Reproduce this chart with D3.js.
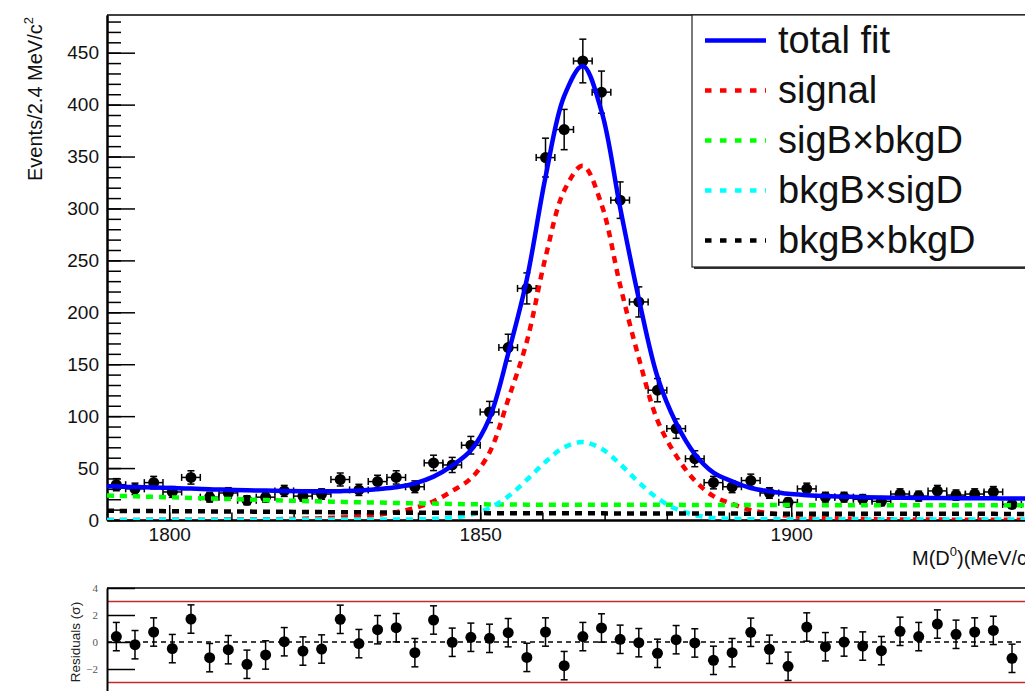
<!DOCTYPE html>
<html>
<head>
<meta charset="utf-8">
<script src="https://cdn.jsdelivr.net/npm/d3@7"></script>
<style>
    body { margin: 0; background: #fff; }
    svg { display: block; font-family: "Liberation Sans", Arial, Helvetica, sans-serif; }
</style>
</head>
<body>
<script>
// Bin centres of the D0 mass histogram (3 MeV bins from 1790)
var massCenters = [1791.5, 1794.5, 1797.5, 1800.5, 1803.5, 1806.5, 1809.5, 1812.5, 1815.5, 1818.5,
    1821.5, 1824.5, 1827.5, 1830.5, 1833.5, 1836.5, 1839.5, 1842.5, 1845.5, 1848.5,
    1851.5, 1854.5, 1857.5, 1860.5, 1863.5, 1866.5, 1869.5, 1872.5, 1875.5, 1878.5,
    1881.5, 1884.5, 1887.5, 1890.5, 1893.5, 1896.5, 1899.5, 1902.5, 1905.5, 1908.5,
    1911.5, 1914.5, 1917.5, 1920.5, 1923.5, 1926.5, 1929.5, 1932.5, 1935.5];

// Events per bin
var counts = [34, 30, 36, 27, 41, 22, 26, 19, 22, 28,
    23, 25, 39, 29, 37, 41, 32, 55, 53, 72,
    104, 166, 223, 349, 376, 442, 412, 308, 210, 125,
    88, 59, 36, 32, 38, 26, 17, 30, 22, 22,
    20, 18, 25, 23, 28, 24, 25, 27, 15];

// Pulls shown in the lower panel
var pulls = [0.40, -0.20, 0.74, -0.49, 1.70, -1.16, -0.57, -1.65, -0.96, 0.02,
    -0.67, -0.52, 1.68, -0.12, 0.91, 1.06, -0.79, 1.63, -0.02, 0.35,
    0.27, 0.69, -1.14, 0.74, -1.75, 0.40, 1.04, 0.20, -0.05, -0.84,
    0.17, -0.07, -1.36, -0.79, 0.72, -0.54, -1.80, 1.11, -0.35, 0.00,
    -0.30, -0.64, 0.79, 0.40, 1.33, 0.57, 0.74, 0.86, -1.21];
var pullError = 1.05;

// Fit curves sampled at the range edges and at every bin centre
var curveMass = [1790].concat(massCenters, [1938.5, 1940]);

var totalFit = [32.6,
    32.3, 31.7, 31.3, 30.7, 30.3, 29.6, 29.1, 28.6, 28.3, 27.9,
    27.6, 27.6, 27.8, 28.3, 29.7, 31.5, 35.3, 41.8, 52.4, 67.1,
    98.2, 160.2, 231.9, 330.3, 408.1, 437.1, 393.7, 300.7, 213.1, 137.9,
    93.4, 63.5, 45.7, 37.3, 30.8, 27.7, 25.2, 23.9, 23.0, 22.5,
    22.0, 21.6, 21.4, 21.2, 21.1, 21.0, 21.0, 20.9, 20.7, 20.7,
    20.7];

var signal = [0.1,
    0.1, 0.1, 0.15, 0.2, 0.25, 0.3, 0.4, 0.5, 0.7, 0.9,
    1.2, 1.7, 2.4, 3.4, 5.1, 7.5, 11.6, 18, 28, 40,
    65, 116, 172, 253, 317, 341, 304, 226, 156, 96,
    62, 38, 23, 15.5, 9.5, 6.5, 4.0, 2.8, 2.0, 1.5,
    1.1, 0.8, 0.6, 0.5, 0.4, 0.3, 0.3, 0.3, 0.2, 0.2,
    0.2];

var sigBbkgD = [23.5,
    23.3, 22.8, 22.3, 21.8, 21.3, 20.7, 20.2, 19.7, 19.2, 18.7,
    18.3, 17.9, 17.5, 17.1, 16.8, 16.4, 16.1, 15.8, 15.4, 15.2,
    15.0, 14.9, 14.8, 14.8, 14.7, 14.7, 14.7, 14.6, 14.6, 14.6,
    14.6, 14.5, 14.5, 14.5, 14.4, 14.4, 14.4, 14.3, 14.3, 14.3,
    14.3, 14.2, 14.2, 14.2, 14.2, 14.2, 14.2, 14.1, 14.1, 14.1,
    14.1];

var bkgBsigD = [0.1,
    0.1, 0.1, 0.2, 0.2, 0.3, 0.3, 0.3, 0.3, 0.4, 0.4,
    0.4, 0.4, 0.4, 0.4, 0.5, 0.5, 0.6, 1.1, 2.2, 5.2,
    11.6, 22.7, 38.6, 56, 70, 75, 68.6, 53.8, 36.2, 21,
    10.6, 4.8, 2.0, 1.1, 0.8, 0.7, 0.7, 0.7, 0.7, 0.7,
    0.6, 0.6, 0.6, 0.6, 0.6, 0.6, 0.6, 0.6, 0.6, 0.6,
    0.6];

var bkgBbkgD = [8.9,
    8.8, 8.7, 8.6, 8.5, 8.4, 8.3, 8.2, 8.1, 8.0, 7.9,
    7.7, 7.6, 7.5, 7.4, 7.3, 7.1, 7.0, 6.9, 6.8, 6.7,
    6.6, 6.6, 6.5, 6.5, 6.4, 6.4, 6.4, 6.3, 6.3, 6.3,
    6.2, 6.2, 6.2, 6.2, 6.1, 6.1, 6.1, 6.1, 6.0, 6.0,
    6.0, 6.0, 6.0, 5.9, 5.9, 5.9, 5.9, 5.9, 5.8, 5.8,
    5.8];

var legendLabels = ["total fit", "signal", "sigB\u00d7bkgD", "bkgB\u00d7sigD", "bkgB\u00d7bkgD"];

// Tick labels
var countTicks = [0, 50, 100, 150, 200, 250, 300, 350, 400, 450];
var massTicks = [1800, 1850, 1900];
var pullTicks = [-2, 0, 2, 4];

window.onload = drawChart;

function drawChart(){

    var width = 1025,
        height = 691;

    var svg = d3.select("body")
        .append("svg")
        .attr("width", width)
        .attr("height", height);

    // Shared mass scale, the frame runs past the right edge of the picture
    var x = d3.scaleLinear()
        .domain([1790, 1940])
        .range([107, 1040]);

    var y = d3.scaleLinear()
        .domain([0, 486.3])
        .range([520, 15]);

    var yPull = d3.scaleLinear()
        .domain([-4, 4])
        .range([696, 588]);

    svg.append("clipPath")
        .attr("id", "plotClip")
        .append("rect")
        .attr("x", x.range()[0])
        .attr("y", y.range()[1])
        .attr("width", x.range()[1] - x.range()[0])
        .attr("height", y.range()[0] - y.range()[1]);

    // ---- main panel ----

    // top frame line
    svg.append("line")
        .attr("x1", x.range()[0]).attr("x2", x.range()[1])
        .attr("y1", y.range()[1]).attr("y2", y.range()[1])
        .attr("stroke", "#000").attr("stroke-width", 1.5);

    // minor ticks first so the labelled axis sits on top
    svg.append("g")
        .attr("transform", "translate(" + x.range()[0] + ",0)")
        .call(d3.axisLeft(y).tickValues(d3.range(0, 481, 10)).tickSize(-14).tickSizeOuter(0).tickFormat(""))
        .call(styleAxis);

    svg.append("g")
        .attr("transform", "translate(0," + y.range()[0] + ")")
        .call(d3.axisBottom(x).tickValues(d3.range(1790, 1941, 10)).tickSize(-7.5).tickSizeOuter(0).tickFormat(""))
        .call(styleAxis);

    var yAxis = svg.append("g")
        .attr("transform", "translate(" + x.range()[0] + ",0)")
        .call(d3.axisLeft(y).tickValues(countTicks).tickSize(-28).tickSizeOuter(0).tickPadding(8).tickFormat(d3.format("d")))
        .call(styleAxis);
    yAxis.selectAll("text").attr("font-size", 19);

    var xAxis = svg.append("g")
        .attr("transform", "translate(0," + y.range()[0] + ")")
        .call(d3.axisBottom(x).tickValues(massTicks).tickSize(-15).tickSizeOuter(0).tickPadding(8).tickFormat(d3.format("d")))
        .call(styleAxis);
    xAxis.selectAll("text").attr("font-size", 19);

    // axis titles
    var yTitle = svg.append("text")
        .attr("transform", "translate(42,17) rotate(-90)")
        .attr("text-anchor", "end")
        .attr("font-size", 20)
        .attr("fill", "#111");
    yTitle.append("tspan").text("Events/2.4 MeV/c");
    yTitle.append("tspan").attr("font-size", 13).attr("dy", -9).text("2");

    var xTitle = svg.append("text")
        .attr("x", 912)
        .attr("y", 565)
        .attr("font-size", 20)
        .attr("fill", "#111");
    xTitle.append("tspan").text("M(D");
    xTitle.append("tspan").attr("font-size", 13).attr("dy", -9).text("0");
    xTitle.append("tspan").attr("dy", 9).text(")(MeV/c");
    xTitle.append("tspan").attr("font-size", 13).attr("dy", -9).text("2");
    xTitle.append("tspan").attr("dy", 9).text(")");

    // data points with error bars
    var points = massCenters.map(function(m, i){
        return {mass: m, count: counts[i], err: Math.sqrt(counts[i]), pull: pulls[i]};
    });

    var dataG = svg.append("g").attr("clip-path", "url(#plotClip)");
    drawPoints(dataG, points, x, y, true);

    // fit curves
    var line = d3.line()
        .curve(d3.curveCatmullRom.alpha(0.5))
        .x(function(d){ return x(d[0]); })
        .y(function(d){ return y(d[1]); });

    var curves = [
        {values: totalFit, color: "#0000ff", dash: null},
        {values: signal, color: "#ff0000", dash: "7,6"},
        {values: sigBbkgD, color: "#00ff00", dash: "7,6"},
        {values: bkgBsigD, color: "#00ffff", dash: "7,6"},
        {values: bkgBbkgD, color: "#000000", dash: "7,6"}
    ];

    svg.append("g")
        .attr("clip-path", "url(#plotClip)")
        .selectAll(".curve")
        .data(curves)
        .enter()
        .append("path")
        .attr("class", "curve")
        .attr("fill", "none")
        .attr("stroke", function(d){ return d.color; })
        .attr("stroke-width", 4.5)
        .attr("stroke-dasharray", function(d){ return d.dash; })
        .attr("d", function(d){
            return line(d.values.map(function(v, i){ return [curveMass[i], v]; }));
        });

    // legend box
    var legend = svg.append("g");
    legend.append("rect")
        .attr("x", 694).attr("y", 17)
        .attr("width", 400).attr("height", 252)
        .attr("fill", "#333");
    legend.append("rect")
        .attr("x", 692).attr("y", 15)
        .attr("width", 400).attr("height", 252)
        .attr("fill", "#fff")
        .attr("stroke", "#222")
        .attr("stroke-width", 1.2);

    var rows = legend.selectAll(".entry")
        .data(curves)
        .enter()
        .append("g")
        .attr("class", "entry")
        .attr("transform", function(d, i){ return "translate(0," + (40.5 + i * 50) + ")"; });

    rows.append("line")
        .attr("x1", 705).attr("x2", 766)
        .attr("stroke", function(d){ return d.color; })
        .attr("stroke-width", 4.5)
        .attr("stroke-dasharray", function(d){ return d.dash ? "6.5,8.5" : null; });

    rows.append("text")
        .attr("x", 778)
        .attr("y", 12.5)
        .attr("font-size", 38)
        .attr("fill", "#111")
        .text(function(d, i){ return legendLabels[i]; });

    // ---- residual panel ----

    svg.append("line")
        .attr("x1", x.range()[0]).attr("x2", x.range()[1])
        .attr("y1", yPull(4)).attr("y2", yPull(4))
        .attr("stroke", "#000").attr("stroke-width", 1.5);

    svg.selectAll(".sigmaLine")
        .data([3, -3])
        .enter()
        .append("line")
        .attr("class", "sigmaLine")
        .attr("x1", x.range()[0]).attr("x2", x.range()[1])
        .attr("y1", function(d){ return yPull(d); })
        .attr("y2", function(d){ return yPull(d); })
        .attr("stroke", "#c42a2a")
        .attr("stroke-width", 1.3);

    svg.append("line")
        .attr("x1", x.range()[0]).attr("x2", x.range()[1])
        .attr("y1", yPull(0)).attr("y2", yPull(0))
        .attr("stroke", "#000")
        .attr("stroke-width", 1.5)
        .attr("stroke-dasharray", "5,4");

    var pullAxis = svg.append("g")
        .attr("transform", "translate(" + x.range()[0] + ",0)")
        .call(d3.axisLeft(yPull).tickValues(pullTicks).tickSize(-28).tickSizeOuter(0).tickPadding(9))
        .call(styleAxis);
    pullAxis.selectAll("text")
        .attr("font-family", "'Liberation Serif', 'Times New Roman', serif")
        .attr("font-size", 11)
        .attr("fill", "#555");

    svg.append("text")
        .attr("transform", "translate(80," + yPull(0) + ") rotate(-90)")
        .attr("text-anchor", "middle")
        .attr("font-size", 13.5)
        .attr("fill", "#222")
        .text("Residuals (\u03c3)");

    var pullPoints = points.map(function(p){
        return {mass: p.mass, count: p.pull, err: pullError};
    });
    drawPoints(svg.append("g"), pullPoints, x, yPull, false);
}

// Styles a ROOT-like axis: thick black lines, no default font
function styleAxis(g){
    g.attr("font-family", null).attr("font-size", null);
    g.select(".domain").attr("stroke", "#000").attr("stroke-width", 2);
    g.selectAll(".tick line").attr("stroke", "#000").attr("stroke-width", 1.5);
    g.selectAll(".tick text").attr("fill", "#111");
}

// Dots with vertical (and optionally horizontal) error bars and end caps
function drawPoints(g, points, x, y, withBinWidth){
    var cap = 3.5;

    var pts = g.selectAll(".pt")
        .data(points)
        .enter()
        .append("g")
        .attr("class", "pt")
        .attr("stroke", "#000")
        .attr("stroke-width", 1.5);

    pts.append("line")
        .attr("x1", function(d){ return x(d.mass); })
        .attr("x2", function(d){ return x(d.mass); })
        .attr("y1", function(d){ return y(d.count - d.err); })
        .attr("y2", function(d){ return y(d.count + d.err); });

    [1, -1].forEach(function(s){
        pts.append("line")
            .attr("x1", function(d){ return x(d.mass) - cap; })
            .attr("x2", function(d){ return x(d.mass) + cap; })
            .attr("y1", function(d){ return y(d.count + s * d.err); })
            .attr("y2", function(d){ return y(d.count + s * d.err); });
    });

    if (withBinWidth){
        pts.append("line")
            .attr("x1", function(d){ return x(d.mass - 1.5); })
            .attr("x2", function(d){ return x(d.mass + 1.5); })
            .attr("y1", function(d){ return y(d.count); })
            .attr("y2", function(d){ return y(d.count); });

        [1, -1].forEach(function(s){
            pts.append("line")
                .attr("x1", function(d){ return x(d.mass + s * 1.5); })
                .attr("x2", function(d){ return x(d.mass + s * 1.5); })
                .attr("y1", function(d){ return y(d.count) - cap; })
                .attr("y2", function(d){ return y(d.count) + cap; });
        });
    }

    pts.append("circle")
        .attr("cx", function(d){ return x(d.mass); })
        .attr("cy", function(d){ return y(d.count); })
        .attr("r", 5.5)
        .attr("fill", "#000")
        .attr("stroke", "none");
}
</script>
</body>
</html>
